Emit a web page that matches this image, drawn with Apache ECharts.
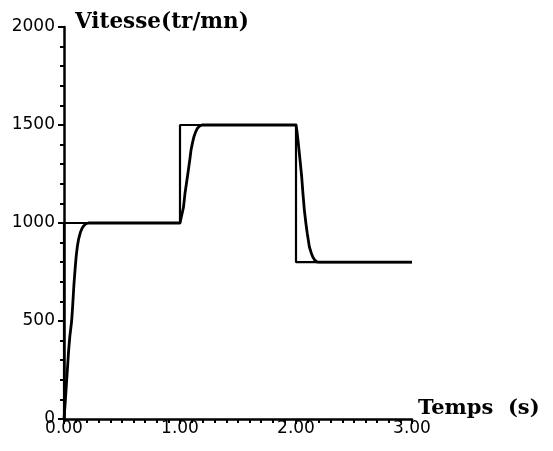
<!DOCTYPE html>
<html>
<head>
<meta charset="utf-8">
<script src="https://cdn.jsdelivr.net/npm/echarts@6/dist/echarts.min.js"></script>
<style>
html,body{margin:0;padding:0;background:#fff;}
#chart{width:553px;height:451px;}
</style>
</head>
<body>
<div id="chart"></div>
<script>
// Consigne (reference step)
var refTime  = [0, 0, 1.0, 1.0, 2.0, 2.0, 3.0];
var refSpeed = [0, 1000, 1000, 1500, 1500, 800, 800];

// Réponse (measured speed)
var respTime  = [0, 0.01, 0.02, 0.03, 0.04, 0.05, 0.066, 0.075, 0.085, 0.095, 0.105, 0.115, 0.125, 0.14, 0.155, 0.17, 0.19, 0.21,
                 1.0, 1.014, 1.03, 1.043, 1.058, 1.072, 1.085, 1.095, 1.108, 1.12, 1.135, 1.15, 1.17, 1.19,
                 2.0, 2.008, 2.02, 2.035, 2.049, 2.06, 2.072, 2.085, 2.097, 2.115, 2.13, 2.144, 2.16, 2.18, 2.2, 3.0];
var respSpeed = [0, 80, 170, 260, 350, 420, 500, 580, 680, 760, 830, 880, 915, 950, 972, 986, 996, 1000,
                 1000, 1005, 1080, 1151, 1212, 1270, 1325, 1372, 1410, 1440, 1465, 1483, 1495, 1500,
                 1500, 1470, 1406, 1320, 1236, 1150, 1066, 1000, 947, 879, 850, 828, 812, 802, 800, 800];

var xTicks = ['0.00', '1.00', '2.00', '3.00'];
var yTicks = ['0', '500', '1000', '1500', '2000'];

function pairs(a, b) { return a.map(function (v, i) { return [v, b[i]]; }); }

var chart = echarts.init(document.getElementById('chart'), null, {renderer: 'canvas'});
chart.setOption({
  animation: false,
  backgroundColor: '#fff',
  grid: {left: 64, right: 141, top: 27, bottom: 32, containLabel: false, outerBoundsMode: 'none'},
  xAxis: {
    type: 'value', min: 0, max: 3, interval: 1,
    name: 'Temps  (s)', nameLocation: 'end', nameGap: 6,
    nameTextStyle: {fontFamily: 'DejaVu Serif', fontWeight: 'bold', fontSize: 21, color: '#000',
                    verticalAlign: 'bottom', align: 'left'},
    axisLine: {show: true, onZero: false, lineStyle: {color: '#000', width: 2.5}},
    axisTick: {show: true, inside: false, length: 5, lineStyle: {color: '#000', width: 2}},
    minorTick: {show: true, splitNumber: 10, length: 4, lineStyle: {color: '#000', width: 2}},
    axisLabel: {margin: 1, fontFamily: 'DejaVu Sans', fontSize: 17, color: '#000',
                formatter: function (v) { return xTicks[Math.round(v)]; }},
    splitLine: {show: false}
  },
  yAxis: {
    type: 'value', min: 0, max: 2000, interval: 500,
    name: 'Vitesse(tr/mn)', nameLocation: 'end', nameGap: -6,
    nameTextStyle: {fontFamily: 'DejaVu Serif', fontWeight: 'bold', fontSize: 21.5, color: '#000',
                    align: 'left', padding: [0, 0, 0, 11]},
    axisLine: {show: true, onZero: false, lineStyle: {color: '#000', width: 2.5}},
    axisTick: {show: true, inside: false, length: 6, lineStyle: {color: '#000', width: 2}},
    minorTick: {show: true, splitNumber: 5, length: 4, lineStyle: {color: '#000', width: 2}},
    axisLabel: {margin: 9, fontFamily: 'DejaVu Sans', fontSize: 17, color: '#000',
                formatter: function (v) { return yTicks[Math.round(v / 500)]; }},
    splitLine: {show: false}
  },
  series: [
    {
      type: 'line', data: pairs(refTime, refSpeed), showSymbol: false, symbol: 'none',
      lineStyle: {color: '#000', width: 2.2}, z: 3
    },
    {
      type: 'line', data: pairs(respTime, respSpeed), showSymbol: false, symbol: 'none',
      lineStyle: {color: '#000', width: 2.8, join: 'round'}, z: 4
    }
  ]
});
</script>
</body>
</html>
